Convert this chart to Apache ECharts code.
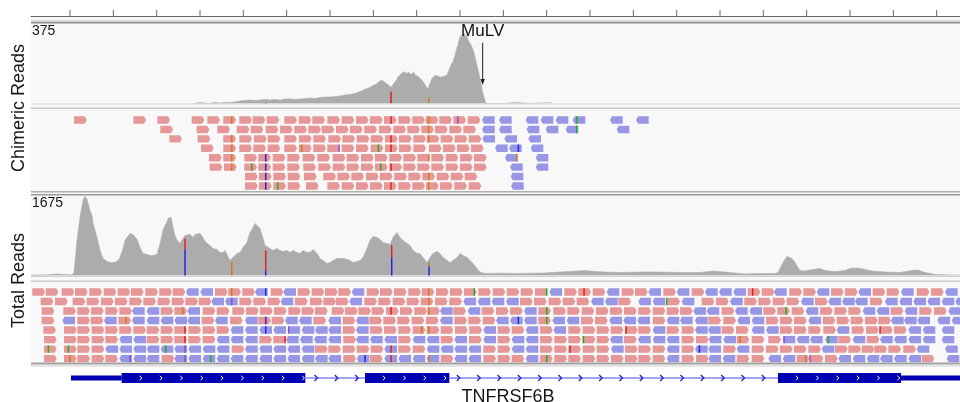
<!DOCTYPE html>
<html><head><meta charset="utf-8">
<script src="https://cdn.jsdelivr.net/npm/echarts@6/dist/echarts.min.js"></script>
<style>html,body{margin:0;padding:0;background:#fff}#c{width:960px;height:402px}</style>
</head><body><div id="c"></div>
<script>
// ---- genomic window (relative bp; view covers 93..2880) ----
const viewStart = 93, viewEnd = 2880;
const rulerTicks = [210,340,470,600,730,860,990,1120,1250,1380,1510,1640,1770,1900,2030,2160,2290,2420,2550,2680,2810];

// ---- coverage tracks: [position, depth] ----
const chimericMax = 375;
const chimericCoverage = [[585,0],[600,5],[615,2],[630,0],[645,5],[660,2],[675,5],[690,5],[705,7],[720,12],[735,14],[750,16],[765,14],[780,16],[795,19],[810,16],[825,19],[840,16],[855,21],[870,21],[885,19],[900,21],[915,23],[930,26],[945,23],[960,28],[975,30],[990,30],[1005,33],[1020,35],[1035,40],[1050,42],[1065,47],[1080,56],[1095,66],[1110,75],[1119,84],[1128,89],[1137,103],[1146,108],[1155,98],[1164,89],[1173,75],[1182,94],[1191,112],[1194,125],[1197,118],[1200,131],[1203,138],[1206,145],[1209,136],[1212,148],[1215,141],[1218,150],[1221,138],[1224,148],[1227,140],[1230,146],[1233,135],[1236,143],[1239,139],[1242,145],[1245,133],[1248,137],[1251,128],[1254,126],[1257,124],[1260,118],[1269,103],[1278,80],[1284,66],[1290,94],[1296,117],[1305,131],[1314,127],[1323,122],[1332,127],[1341,131],[1350,169],[1353,180],[1356,176],[1359,195],[1362,202],[1365,225],[1368,218],[1371,262],[1374,272],[1377,295],[1380,288],[1383,318],[1386,305],[1389,328],[1392,315],[1395,326],[1398,300],[1401,318],[1404,296],[1407,305],[1410,281],[1413,284],[1416,262],[1419,250],[1422,234],[1425,215],[1428,197],[1431,176],[1434,155],[1437,140],[1440,112],[1443,95],[1446,66],[1452,28],[1458,0],[1515,0],[1521,5],[1545,5],[1569,2],[1575,0],[1599,0],[1602,5],[1650,5],[1656,0]];

const totalMax = 1675;
const totalCoverage = [[93,11],[135,11],[141,32],[171,32],[177,11],[216,11],[222,63],[225,105],[231,740],[240,1225],[249,1585],[255,1668],[258,1650],[261,1605],[264,1625],[270,1370],[276,1265],[279,1100],[285,950],[291,800],[300,528],[309,360],[321,295],[330,275],[339,275],[351,295],[360,380],[369,570],[375,740],[381,800],[390,885],[399,865],[405,845],[411,760],[420,590],[429,465],[441,445],[450,420],[459,420],[471,445],[480,675],[489,950],[495,1055],[501,1120],[504,1200],[510,1160],[513,1225],[519,1010],[525,845],[531,740],[540,675],[549,780],[555,845],[561,885],[570,865],[579,800],[585,865],[591,845],[600,885],[609,800],[615,717],[621,675],[630,633],[639,570],[645,590],[651,550],[660,485],[669,485],[675,528],[681,443],[690,316],[696,295],[699,380],[711,465],[720,485],[729,590],[741,696],[750,907],[759,1013],[765,1097],[771,1076],[780,992],[789,780],[795,633],[801,675],[810,570],[819,528],[831,570],[840,528],[849,506],[861,528],[870,485],[879,528],[891,485],[900,464],[909,528],[921,485],[930,485],[939,549],[951,464],[960,359],[969,316],[981,253],[990,274],[999,316],[1011,359],[1020,359],[1029,359],[1041,338],[1050,316],[1059,274],[1071,295],[1080,316],[1089,380],[1101,570],[1110,738],[1119,823],[1125,802],[1131,802],[1140,760],[1149,696],[1161,675],[1170,654],[1179,802],[1185,844],[1191,907],[1194,865],[1200,802],[1209,738],[1221,675],[1230,633],[1239,528],[1251,464],[1260,464],[1269,380],[1281,274],[1290,380],[1299,464],[1311,506],[1320,464],[1329,380],[1341,316],[1350,274],[1359,316],[1371,380],[1380,464],[1389,422],[1401,380],[1410,316],[1419,253],[1431,148],[1440,74],[1449,53],[1458,42],[1500,49],[1560,42],[1635,53],[1680,74],[1755,105],[1785,84],[1815,74],[1860,63],[1920,74],[1980,74],[2040,63],[2100,63],[2139,95],[2175,74],[2205,53],[2235,32],[2280,42],[2325,42],[2334,63],[2340,148],[2349,274],[2355,316],[2361,400],[2367,359],[2376,359],[2385,274],[2394,169],[2400,105],[2415,95],[2439,127],[2460,148],[2475,105],[2505,84],[2535,105],[2550,148],[2574,158],[2595,127],[2616,95],[2655,74],[2700,63],[2736,105],[2754,116],[2775,63],[2805,21],[2811,6],[2880,6]];

// mismatch bars in coverage: [position, fromDepth, toDepth, baseIndex]
const baseColors = ['#e0201c', '#2525e0', '#d27a1e', '#22b022', '#8a4fcf'];
const chimericCovMismatch = [[1173,0,55,0],[1286,0,28,2],[797,0,4,4]];
const totalCovMismatch = [[555,0,550,1],[555,550,780,0],[695,0,290,2],[797,0,105,1],[797,105,525,0],[1175,0,380,1],[1175,380,640,0],[1287,0,190,1],[1287,190,280,2]];

// ---- reads: one string per row, f = forward strand, r = reverse strand, number = start ----
const READ_LEN = 38;
const chimericReads = [
 'f222 f400 f472 f575 f622 f670 f718 f758 f800 f853 f896 f937 f982 f1025 f1068 f1110 f1152 f1195 f1237 f1277 f1318 f1360 f1403 r1446 r1497 r1577 r1622 r1667 r1718 r1830 r1908',
 'f481 f590 f652 f710 f752 f797 f840 f883 f925 f965 f1008 f1050 f1093 f1137 f1180 f1222 f1264 f1305 f1348 f1390 r1446 r1497 r1580 r1637 r1697 r1850',
 'f508 f593 f670 f718 f762 f803 f853 f897 f940 f985 f1027 f1070 f1112 f1155 f1197 f1240 f1280 f1322 f1364 f1406 r1447 r1513 r1585',
 'f603 f670 f718 f760 f803 f853 f897 f940 f982 f1025 f1068 f1112 f1155 f1197 f1240 f1287 f1329 f1371 f1413 r1485 r1527 r1592',
 'f627 f670 f733 f775 f818 f862 f908 f952 f998 f1040 f1083 f1125 f1168 f1210 f1252 f1294 f1337 f1380 f1422 r1515 r1607',
 'f629 f672 f733 f775 f818 f862 f910 f955 f998 f1040 f1083 f1125 f1168 f1210 f1252 f1294 f1337 f1380 f1422 r1530 r1607',
 'f735 f777 f820 f863 f912 f970 f1012 f1054 f1098 f1140 f1183 f1225 f1267 f1310 f1352 f1394 r1532',
 'f735 f777 f820 f863 f918 f982 f1025 f1068 f1110 f1152 f1195 f1237 f1278 f1320 f1363 f1406 r1533'
];
const totalReads = [
 'f97 f137 f185 f225 f268 f311 f353 f393 f436 f478 f518 r558 r601 f645 f685 f727 r765 f812 r850 f893 f935 f975 f1015 r1055 f1100 f1140 f1182 f1225 f1265 f1308 f1350 f1392 f1435 f1478 f1520 f1562 f1605 r1648 f1693 f1735 f1778 r1820 f1865 f1905 r1945 f1990 r2030 f2075 r2115 r2157 r2200 f2243 f2285 r2322 f2368 f2410 r2450 f2493 f2535 r2575 f2618 f2660 r2703 f2750 f2793 r2835',
 'f122 f165 f218 f260 f303 f345 f388 f430 f473 f515 f556 f596 r634 r675 f718 f760 f803 r842 f885 f930 f970 f1008 r1048 f1093 f1135 f1178 f1220 f1262 f1305 f1348 r1390 r1433 r1475 r1518 f1560 f1602 f1646 f1688 f1730 r1773 r1815 f1855 r1915 r1958 f2002 r2045 f2105 f2148 r2190 f2233 f2275 f2318 f2360 r2403 f2445 r2485 r2526 r2565 f2610 r2655 r2698 r2740 r2782 r2825 r2866',
 'f125 f190 f232 f273 f316 f358 r396 r440 f482 f523 r562 f608 f650 f697 f738 f780 f822 f865 f905 f945 f995 f1035 f1075 f1115 f1158 f1200 f1243 f1282 r1320 f1360 r1403 f1445 f1488 f1530 r1572 f1615 f1660 f1702 f1745 f1788 f1830 f1872 f1915 f1958 f2000 f2040 r2080 r2120 f2165 r2205 r2248 f2290 f2332 f2375 r2417 f2460 f2503 f2545 r2588 r2630 f2672 r2714 f2758 f2802 r2845',
 'f125 r187 f232 f272 r312 f355 r396 r440 r482 r523 r562 f605 r645 f690 r735 f775 f815 r855 r897 f940 r985 f1028 r1068 f1108 f1150 f1192 f1235 f1278 r1320 f1363 f1405 f1448 r1488 r1530 r1572 f1615 r1657 r1700 f1743 f1785 r1828 r1870 r1912 f1958 r2000 r2040 r2085 f2125 f2170 r2212 r2255 f2298 f2340 f2382 r2425 f2468 f2510 f2552 f2595 f2635 r2673 r2712 r2752 r2812 r2855',
 'f130 f192 f232 f275 f316 f358 f400 f440 f482 f523 f565 f608 f650 r692 r735 r778 r820 r862 r905 r945 r985 f1028 r1068 f1110 f1152 f1195 f1238 f1280 f1322 f1365 f1408 r1450 f1493 f1535 r1577 f1620 r1660 f1705 f1748 f1790 f1832 f1875 f1915 r1958 f2000 f2045 r2085 r2124 f2165 f2208 r2255 r2298 f2340 f2382 f2425 f2470 r2510 f2555 f2598 f2640 f2682 r2725 r2768 r2825',
 'f132 f192 f232 f275 f316 r358 r400 f440 f482 f523 f565 f608 r650 r692 r735 f778 f820 r858 r900 r942 r985 f1030 r1068 r1110 r1153 f1195 r1238 r1280 f1322 r1363 f1407 r1450 f1493 r1535 r1577 f1620 f1663 f1705 f1748 f1790 r1830 f1872 r1914 r1958 r2000 f2045 f2088 r2126 r2170 f2210 f2255 f2305 r2348 r2390 r2430 r2475 f2515 r2558 f2600 r2640 r2682 r2725 r2768 r2825',
 'f132 f192 f232 f275 r316 r358 r400 r440 r482 r523 r565 r608 r650 f695 r735 r778 r820 r862 r905 f945 f985 f1028 f1070 f1112 r1153 f1195 f1238 r1280 r1322 r1363 r1405 f1450 f1493 r1535 r1577 f1620 f1663 f1705 f1748 f1790 r1833 f1875 f1915 f1958 r2000 f2045 r2085 r2125 f2170 r2210 f2255 f2298 f2340 f2382 f2425 r2465 f2505 f2545 f2585 f2623 f2665 f2710 r2750 r2835',
 'f132 f192 f232 f275 f316 r358 r400 r440 f485 r523 r565 r608 r650 r692 r735 r778 r820 r862 r905 r945 r985 f1030 r1070 f1110 r1153 r1195 r1238 r1280 f1322 r1363 r1405 f1450 f1493 f1535 r1577 f1620 f1663 f1705 f1748 f1790 f1833 f1875 f1915 f1958 r2000 f2045 f2088 r2125 r2168 f2210 f2255 r2305 r2348 f2390 f2432 f2475 r2515 r2558 r2600 r2640 r2682 r2725 f2765 r2840'
];
// mismatching bases inside reads: [position, row, baseIndex]
const chimericMismatch = [[695,0,2],[695,2,2],[695,3,2],[695,4,2],[695,5,2],[905,3,2],[797,4,1],[797,5,1],[797,6,1],[797,7,1],[755,5,3],[833,7,3],[1173,0,0],[1173,2,0],[1173,3,0],[1173,5,0],[1173,7,0],[1286,0,2],[1286,1,2],[1286,2,2],[1286,4,2],[1286,6,2],[1286,7,2],[1373,0,4],[1017,3,4],[1135,3,3],[1142,5,3],[1730,0,3],[1730,1,3],[1555,3,1],[1550,4,2]];
const totalMismatch = [[695,0,2],[695,1,4],[797,0,1],[797,3,1],[797,4,1],[548,2,2],[378,3,2],[555,4,0],[555,5,0],[555,6,4],[555,7,4],[145,6,3],[205,6,3],[210,7,2],[497,6,3],[632,7,3],[390,7,4],[866,4,4],[855,5,0],[1286,0,2],[1286,1,2],[1286,2,2],[1286,4,2],[1286,7,2],[1173,2,0],[1173,6,0],[1173,7,0],[1640,0,3],[1640,2,3],[1640,3,3],[1640,7,3],[1752,0,0],[1423,0,3],[1095,7,1],[1555,3,1],[1878,4,0],[1750,5,3],[1265,4,2],[1710,6,0],[2258,0,0],[2000,1,3],[2358,2,3],[2640,4,0],[2220,5,2],[2352,5,4],[2485,5,3],[2098,6,1],[2417,7,2],[2430,7,4]];

// ---- gene model: [start, end, kind] kind 0 = intron, 1 = UTR, 2 = coding exon ----
const geneName = 'TNFRSF6B';
const geneFeatures = [[213,365,1],[365,916,2],[916,1095,0],[1095,1348,2],[1348,2334,0],[2334,2703,2],[2703,2900,1]];
// integration site annotation: [position, labelDepth, arrowTopDepth, arrowTipDepth]
const integration = [[1448, 338, 283, 86]];
const integrationLabel = 'MuLV';

// ---- colours ----
const FWD = '#e69797', REV = '#9797e6', COV = '#acacac', GENE = '#0000b2', INTRON = '#4b4bdc';
const FONT = '"Liberation Sans", Arial, sans-serif';

function parseReads(rows) {
  const out = [];
  rows.forEach((str, row) => {
    str.trim().split(/\s+/).forEach(tok => {
      const s = +tok.slice(1);
      out.push([s, s + READ_LEN, row, tok[0] === 'f' ? 1 : 0]);
    });
  });
  return out;
}

const READ_H = 7.4;
function renderRead(params, api) {
  const s = api.value(0), e = api.value(1), row = api.value(2), fwd = api.value(3) === 1;
  const a = api.coord([s, row]), b = api.coord([e, row]);
  const yc = a[1], y0 = yc - READ_H / 2, y1 = yc + READ_H / 2, tip = 2.0;
  const pts = fwd
    ? [[a[0], y0], [b[0] - tip, y0], [b[0], yc], [b[0] - tip, y1], [a[0], y1]]
    : [[a[0] + tip, y0], [b[0], y0], [b[0], y1], [a[0] + tip, y1], [a[0], yc]];
  return { type: 'polygon', shape: { points: pts }, style: { fill: fwd ? FWD : REV } };
}
function renderReadMismatch(params, api) {
  const p = api.coord([api.value(0), api.value(1)]);
  return { type: 'rect', shape: { x: p[0] - 0.7, y: p[1] - READ_H / 2, width: 1.5, height: READ_H },
    style: { fill: baseColors[api.value(2)] } };
}
function renderCovMismatch(params, api) {
  const lo = api.coord([api.value(0), api.value(1)]), hi = api.coord([api.value(0), api.value(2)]);
  return { type: 'rect', shape: { x: lo[0] - 0.7, y: hi[1], width: 1.5, height: lo[1] - hi[1] },
    style: { fill: baseColors[api.value(3)] } };
}
function renderRulerTick(params, api) {
  const p = api.coord([api.value(0), 0]);
  return { type: 'line', shape: { x1: p[0], y1: p[1], x2: p[0], y2: p[1] - 6 },
    style: { stroke: '#666', lineWidth: 1 } };
}
function chev(x, y, w, h, color, lw) {
  return { type: 'polyline', shape: { points: [[x - w / 2, y - h / 2], [x + w / 2, y], [x - w / 2, y + h / 2]] },
    style: { stroke: color, lineWidth: lw, fill: null } };
}
function renderGene(params, api) {
  const s = api.value(0), e = api.value(1), kind = api.value(2);
  const a = api.coord([s, 0]), b = api.coord([e, 0]);
  const yc = a[1];
  const children = [];
  if (kind === 0) {
    children.push({ type: 'line', shape: { x1: a[0], y1: yc, x2: b[0], y2: yc }, style: { stroke: INTRON, lineWidth: 1 } });
    let k = Math.ceil((s - 1375) / 61);
    for (let v = 1375 + 61 * k; v < e - 5; v += 61) {
      const x = api.coord([v, 0])[0];
      children.push(chev(x, yc, 3, 6, '#2222cc', 1.3));
    }
  } else {
    const h = kind === 2 ? 10 : 4.8;
    children.push({ type: 'rect', shape: { x: a[0], y: yc - h / 2, width: b[0] - a[0], height: h }, style: { fill: GENE } });
    if (kind === 2) {
      for (let v = s + 57; v < e - 4; v += 61) {
        const x = api.coord([v, 0])[0];
        children.push(chev(x, yc, 2.2, 4.5, '#ffffff', 1));
      }
    }
  }
  return { type: 'group', children };
}
function renderIntegration(params, api) {
  const x = api.value(0);
  const t = api.coord([x, api.value(1)]), top = api.coord([x, api.value(2)]), tipP = api.coord([x, api.value(3)]);
  return { type: 'group', children: [
    { type: 'text', style: { x: t[0], y: t[1], text: integrationLabel, font: '17px ' + FONT, fill: '#111', align: 'center', verticalAlign: 'middle' } },
    { type: 'line', shape: { x1: top[0], y1: top[1], x2: tipP[0], y2: tipP[1] - 4 }, style: { stroke: '#222', lineWidth: 1 } },
    { type: 'polygon', shape: { points: [[tipP[0] - 2.2, tipP[1] - 6], [tipP[0] + 2.2, tipP[1] - 6], [tipP[0], tipP[1]]] }, style: { fill: '#222' } }
  ] };
}

const gridTops = [[0, 16], [23, 80.5], [115.3, 75.4], [196, 79.5], [287.2, 76.2], [370, 16]];
const grids = gridTops.map(g => ({ left: 31, right: 0, top: g[0], height: g[1], outerBoundsMode: 'none', containLabel: false }));
const xAxes = grids.map((g, i) => ({
  gridIndex: i, type: 'value', min: viewStart, max: viewEnd, show: i === 0, position: 'bottom',
  axisLine: { show: i === 0, lineStyle: { color: '#666', width: 1 } },
  axisTick: { show: false }, axisLabel: { show: false }, splitLine: { show: false }
}));
const yRanges = [[0, 1, false], [0, chimericMax, false], [-0.5, 7.5, true], [0, totalMax, false], [-0.5, 7.5, true], [-1, 1, false]];
const yAxes = yRanges.map((r, i) => ({ gridIndex: i, type: 'value', min: r[0], max: r[1], inverse: r[2], show: false, splitLine: { show: false } }));

const chart = echarts.init(document.getElementById('c'), null, { renderer: 'canvas' });
const hline = (y, h, c) => ({ type: 'rect', z: 10, shape: { x: 31, y: y, width: 929, height: h }, style: { fill: c }, silent: true });
const txt = (x, y, s, size, align, rot) => ({ type: 'text', z: 10, x: x, y: y, rotation: rot || 0,
  style: { text: s, font: size + 'px ' + FONT, fill: '#161616', align: align, verticalAlign: 'middle' } });

chart.setOption({
  animation: false,
  backgroundColor: '#ffffff',
  grid: grids, xAxis: xAxes, yAxis: yAxes,
  graphic: { elements: [
    { type: 'rect', z: -5, shape: { x: 31, y: 16, width: 929, height: 350 }, style: { fill: '#f8f8f8' }, silent: true },
    hline(20.5, 1, '#b8b8b8'), hline(22, 1.5, '#8c8c8c'),
    hline(103.5, 1, '#d2d2d2'), hline(107.5, 1.5, '#cdcdcd'),
    hline(191, 1.5, '#b0b0b0'), hline(194, 1.5, '#9c9c9c'),
    hline(276, 1, '#d2d2d2'), hline(280.5, 1.5, '#cdcdcd'),
    hline(362.5, 2, '#a2a2a2'), hline(365.5, 1, '#d0d0d0'),
    txt(32, 31, String(chimericMax), 14, 'left'),
    txt(32, 203.6, String(totalMax), 14, 'left'),
    txt(18.8, 108, 'Chimeric Reads', 18, 'center', Math.PI / 2),
    txt(18.8, 280.5, 'Total Reads', 18, 'center', Math.PI / 2),
    txt(508, 396.7, geneName, 18, 'center')
  ] },
  series: [
    { type: 'custom', xAxisIndex: 0, yAxisIndex: 0, renderItem: renderRulerTick, data: rulerTicks.map(v => [v]), silent: true },
    { type: 'line', xAxisIndex: 1, yAxisIndex: 1, data: chimericCoverage, symbol: 'none', silent: true,
      lineStyle: { width: 0.6, color: COV }, areaStyle: { color: COV, opacity: 1 } },
    { type: 'custom', xAxisIndex: 1, yAxisIndex: 1, renderItem: renderCovMismatch, data: chimericCovMismatch, silent: true, z: 3 },
    { type: 'custom', xAxisIndex: 1, yAxisIndex: 1, renderItem: renderIntegration, data: integration, silent: true, z: 4 },
    { type: 'custom', xAxisIndex: 2, yAxisIndex: 2, renderItem: renderRead, data: parseReads(chimericReads), clip: true, silent: true },
    { type: 'custom', xAxisIndex: 2, yAxisIndex: 2, renderItem: renderReadMismatch, data: chimericMismatch, clip: true, silent: true, z: 3 },
    { type: 'line', xAxisIndex: 3, yAxisIndex: 3, data: totalCoverage, symbol: 'none', silent: true,
      lineStyle: { width: 0.6, color: COV }, areaStyle: { color: COV, opacity: 1 } },
    { type: 'custom', xAxisIndex: 3, yAxisIndex: 3, renderItem: renderCovMismatch, data: totalCovMismatch, silent: true, z: 3 },
    { type: 'custom', xAxisIndex: 4, yAxisIndex: 4, renderItem: renderRead, data: parseReads(totalReads), clip: true, silent: true },
    { type: 'custom', xAxisIndex: 4, yAxisIndex: 4, renderItem: renderReadMismatch, data: totalMismatch, clip: true, silent: true, z: 3 },
    { type: 'custom', xAxisIndex: 5, yAxisIndex: 5, renderItem: renderGene, data: geneFeatures, clip: true, silent: true }
  ]
});
</script></body></html>
